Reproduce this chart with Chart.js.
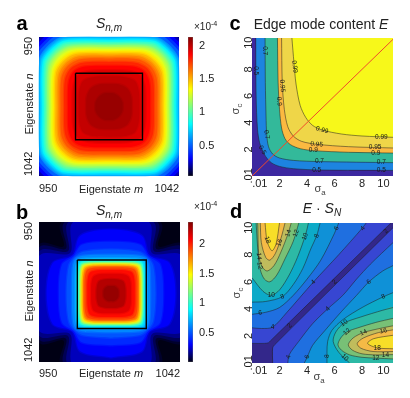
<!DOCTYPE html>
<html>
<head>
<meta charset="utf-8">
<title>Edge mode content</title>
<script src="https://cdn.jsdelivr.net/npm/chart.js@4.4.1/dist/chart.umd.min.js"></script>
<style>
  body {
    margin: 0; width: 410px; height: 398px; position: relative; overflow: hidden;
    background: #fff; color: #222; font-family: "Liberation Sans", Arial, sans-serif;
  }
  canvas { position: absolute; }
  .t { position: absolute; white-space: nowrap; line-height: 1; transform: translate(-50%, -50%); }
  .v { transform: translate(-50%, -50%) rotate(-90deg); }
  .lt { font-weight: bold; font-size: 20px; color: #000; }
  .ttl { font-size: 14px; }
  .ax { font-size: 11px; }
  .sg { font-size: 11px; color: #444; }
  .ex { font-size: 10px; transform: none; }
  sub { font-size: 72%; vertical-align: -0.3em; }
  sup { font-size: 72%; vertical-align: 0.55em; }
</style>
</head>
<body>
<canvas id="mapA" width="185" height="200" style="left:0;top:0"></canvas>
<canvas id="barA" width="50" height="200" style="left:183px;top:0"></canvas>
<canvas id="mapB" width="185" height="200" style="left:0;top:185px"></canvas>
<canvas id="barB" width="50" height="200" style="left:183px;top:185px"></canvas>
<canvas id="edgeC" width="210" height="200" style="left:200px;top:0"></canvas>
<canvas id="prodD" width="210" height="200" style="left:200px;top:185px"></canvas>

<div class="t lt" style="left:22px;top:23px">a</div>
<div class="t lt" style="left:22px;top:212px">b</div>
<div class="t lt" style="left:235px;top:23px">c</div>
<div class="t lt" style="left:236px;top:211px">d</div>

<div class="t ttl" style="left:109px;top:25px"><i>S</i><sub><i>n,m</i></sub></div>
<div class="t ttl" style="left:109px;top:212px"><i>S</i><sub><i>n,m</i></sub></div>
<div class="t ttl" style="left:321px;top:24px">Edge mode content <i>E</i></div>
<div class="t ttl" style="left:322px;top:210px"><i>E</i> · <i>S</i><sub><i>N</i></sub></div>

<div class="t ax v" style="left:29px;top:104px">Eigenstate <i>n</i></div>
<div class="t ax" style="left:111px;top:189px">Eigenstate <i>m</i></div>
<div class="t ax v" style="left:29px;top:291px">Eigenstate <i>n</i></div>
<div class="t ax" style="left:111px;top:373px">Eigenstate <i>m</i></div>

<div class="t sg v" style="left:237px;top:109px">σ<sub>c</sub></div>
<div class="t sg" style="left:320px;top:190px">σ<sub>a</sub></div>
<div class="t sg v" style="left:238px;top:293px">σ<sub>c</sub></div>
<div class="t sg" style="left:319px;top:378px">σ<sub>a</sub></div>

<div class="t ex" style="left:194px;top:20px">×10<sup>-4</sup></div>
<div class="t ex" style="left:194px;top:200px">×10<sup>-4</sup></div>

<script>
// ---------- data ----------
const nRange = [950, 1042];
const nTicks = [950, 1042];
const cbTicks = [0.5, 1, 1.5, 2];

// a: S_{n,m} as nested level rings; each ring is given by one quadrant:
// (0,h) (s,t) (k,k) (t,s) (h,0), offsets from the centre in eigenstate units
const aCenter = 996;
const aBox = [974, 1018];
const aRange = [0.04, 2.14];
const aBase = 0.15;
const aLevels = [0.22, 0.3, 0.4, 0.5, 0.6, 0.7, 0.8, 0.9, 1.0, 1.1, 1.2, 1.3, 1.4, 1.5, 1.6, 1.7, 1.8, 1.88, 1.95, 2.0, 2.05, 2.09];
const aH = [62, 58, 55, 51, 47.5, 45.5, 44.2, 43, 41.8, 40.6, 39.4, 38, 36.7, 35.3, 33.6, 31.8, 29.5, 27, 24, 20, 15, 9];
const aS = [40, 38, 36, 34, 31, 30, 29.5, 29, 28, 26.5, 25.5, 24, 23, 22, 20.5, 19, 17.5, 16, 13.5, 10, 6.5, 3];
const aT = [51, 49.5, 48, 47.2, 46.2, 45, 43.7, 42.5, 41.3, 40.1, 38.9, 37.5, 36.2, 34.8, 33.1, 31.3, 29, 26.5, 23.5, 19.6, 14.7, 8.8];
const aK = [45.5, 44.3, 42.8, 41.5, 40.2, 39, 38, 37, 36, 35, 34, 32.7, 31.3, 30, 28.5, 27, 25.2, 23.2, 20.5, 17, 12, 6.6];

// b: same idea, the halo outside the box is cross shaped
const bCenter = 997;
const bBox = [975, 1020];
const bRange = [0.01, 2.37];
const bBase = 0.0;
const bLevels = [0.04, 0.09, 0.15, 0.22, 0.3, 0.4, 0.5, 0.62, 0.78, 0.95, 1.15, 1.35, 1.55, 1.75, 1.92, 2.05, 2.15, 2.25, 2.32];
const bH = [75, 70, 66, 62, 42, 34, 29, 25.5, 23, 21.5, 20.6, 19.9, 19.2, 18.4, 17.3, 15.5, 13, 9.5, 5];
const bS = [33, 31, 28.5, 25.5, 20, 19, 18, 17, 16, 15, 14, 13.5, 12.5, 11.5, 10.5, 9, 7, 4, 2];
const bT = [46, 46, 46, 46, 38, 32, 27.5, 25, 22.8, 21.3, 20.4, 19.7, 19, 18.2, 17.1, 15.3, 12.8, 9.3, 4.9];
const bK = [31, 29.5, 28, 26.7, 25, 24.5, 23.8, 23, 21.5, 20.2, 19.2, 18.5, 17.7, 16.8, 15.6, 13.8, 11.3, 8, 3.8];

// c, d: sigma axes run a little past 10
const XMAX = 10.25;
const YMAX = 10.35;
const sigmaTicks = [0.01, 2, 4, 6, 8, 10];

// c: contour lines of E, each from the top edge to the right edge
const cLevels = [0.5, 0.7, 0.9, 0.95, 0.99];
const cLines = [
  [[0.27, 10.35], [0.3, 6], [0.4, 3.5], [0.55, 2.5], [0.75, 1.95], [1.0, 1.45], [1.4, 1.0], [2, 0.72], [3, 0.55], [5, 0.45], [10.25, 0.42]],
  [[0.95, 10.35], [0.97, 7], [1.02, 4.5], [1.07, 3.1], [1.2, 2.2], [1.5, 1.65], [2, 1.35], [3, 1.17], [4.9, 1.08], [10.25, 1.0]],
  [[1.85, 10.35], [1.9, 7], [2.0, 5], [2.15, 3.6], [2.4, 2.8], [2.8, 2.35], [3.5, 2.05], [4.5, 1.9], [7, 1.78], [10.25, 1.72]],
  [[2.15, 10.35], [2.2, 7], [2.35, 5], [2.6, 3.7], [3.0, 3.0], [3.6, 2.6], [4.7, 2.38], [7, 2.2], [10.25, 2.1]],
  [[2.9, 10.35], [3.05, 8.5], [3.2, 6.9], [3.5, 5.3], [3.9, 4.4], [4.4, 3.8], [5.1, 3.45], [6.5, 3.15], [8, 3.0], [10.25, 2.9]]
];
const cLabels = [
  [0.28, 7.9, '0.5', 90], [0.75, 1.95, '0.5', 60], [4.7, 0.45, '0.5', 0], [9.4, 0.43, '0.5', 0],
  [0.96, 9.4, '0.7', 90], [1.07, 3.1, '0.7', 80], [4.9, 1.08, '0.7', 0], [9.4, 1.0, '0.7', 0],
  [1.98, 5.6, '0.9', 85], [4.46, 1.9, '0.9', 0], [9.0, 1.73, '0.9', 0],
  [2.2, 6.75, '0.95', 85], [4.7, 2.38, '0.95', 5], [8.95, 2.13, '0.95', 0],
  [3.1, 8.2, '0.99', 82], [5.1, 3.45, '0.99', 15], [9.4, 2.92, '0.99', 0]
];

// d: contour lines of E*S_N
const dLevels = [2, 4, 6, 8, 10, 12, 14, 16, 18];
// above the diagonal: from the left or top edge, region above is filled
const dUpper = [
  [[0, 1.45], [0.9, 1.45], [1.2, 1.5], [1.35, 1.65], [10.1, 10.35]],
  [[0, 2.6], [0.7, 2.55], [1.5, 2.65], [2.5, 3.7], [4.46, 5.98], [6.3, 8.0], [8.0, 9.95], [8.3, 10.35]],
  [[0, 3.6], [1, 3.75], [2, 4.1], [3, 5.0], [4, 6.2], [5, 7.6], [6, 9.6], [6.3, 10.35]],
  [[0, 4.5], [1, 4.55], [2.2, 4.9], [3, 5.8], [3.7, 7], [4.3, 8.5], [4.7, 9.4], [4.95, 10.35]],
  [[0, 6.3], [0.8, 5.3], [1.4, 5.0], [2.0, 5.4], [2.7, 6.5], [3.3, 7.8], [3.9, 9.5], [4.1, 10.35]],
  [[0.3, 10.35], [0.45, 8], [0.6, 6.9], [0.9, 6.2], [1.3, 6.0], [1.8, 6.5], [2.4, 7.7], [3.0, 9.0], [3.4, 10.35]],
  [[0.42, 10.35], [0.5, 7.9], [0.75, 7.1], [1.1, 6.8], [1.6, 7.2], [2.1, 8.2], [2.6, 9.5], [2.85, 10.35]],
  [[0.6, 10.35], [0.68, 8.9], [1.0, 7.8], [1.3, 7.6], [1.7, 8.1], [2.1, 9.2], [2.4, 10.35]],
  [[0.95, 10.35], [1.1, 9.0], [1.45, 8.3], [1.75, 8.8], [2.0, 10.35]]
];
// below the diagonal: bottom edge to right edge (2..8), or right edge to right edge lobes
const dLower = [
  [[1.5, 0], [1.5, 1.1], [1.65, 1.35], [10.25, 10.0]],
  [[2.6, 0], [2.7, 0.6], [3.4, 1.6], [4.4, 2.9], [5.5, 4.0], [6.6, 5.0], [7.6, 6.2], [8.6, 7.3], [10.25, 8.9]],
  [[3.8, 0], [4.0, 0.4], [4.4, 1.3], [5.3, 2.4], [6.5, 3.8], [7.6, 5.0], [8.5, 6.0], [9.5, 6.8], [10.25, 7.2]],
  [[5.45, 0], [5.45, 0.8], [5.5, 1.6], [5.8, 2.4], [6.6, 3.2], [8, 4.1], [9.55, 4.9], [10.25, 5.2]],
  [[7.1, 0], [6.3, 0.8], [5.9, 1.6], [6.1, 2.3], [6.7, 2.95], [7.9, 3.4], [9.5, 3.9], [10.25, 4.1]],
  [[10.25, 0.3], [9, 0.36], [8, 0.42], [7.1, 0.6], [6.5, 0.95], [6.25, 1.35], [6.45, 1.85], [6.9, 2.3], [7.7, 2.6], [9.0, 3.0], [10.25, 3.3]],
  [[10.25, 0.62], [9, 0.6], [8, 0.68], [7.3, 0.95], [7.0, 1.35], [7.35, 1.85], [8.1, 2.25], [9.5, 2.6], [10.25, 2.75]],
  [[10.25, 0.85], [8.8, 0.85], [7.9, 1.1], [7.65, 1.45], [8.1, 1.85], [9.2, 2.25], [10.25, 2.45]],
  [[10.25, 1.05], [9.1, 1.12], [8.4, 1.45], [8.85, 1.8], [10.25, 2.05]]
];
const dLabels = [
  [1.12, 9.1, '18', 70], [2.0, 8.9, '16', -70], [2.65, 9.6, '14', -72], [3.2, 9.6, '12', -72],
  [3.85, 9.35, '10', -70], [4.7, 9.4, '8', -68], [6.15, 9.95, '6', -62], [8.05, 9.95, '4', -50],
  [9.75, 9.75, '2', -45], [0.5, 7.9, '14', 85], [0.56, 7.2, '12', 80], [1.4, 5.0, '10', 0],
  [2.2, 4.9, '8', -20], [0.6, 3.72, '6', -5], [1.5, 2.65, '4', 0], [2.75, 2.75, '2', -45],
  [6.0, 6.0, '2', -45], [4.46, 5.98, '4', -45],
  [2.65, 0.45, '4', -80], [4.02, 0.45, '6', -75], [5.45, 0.5, '8', -88], [6.75, 0.4, '10', 45],
  [9.0, 0.36, '12', 0], [9.7, 0.61, '14', 0], [9.1, 1.12, '18', 0], [9.55, 2.37, '16', -12],
  [8.1, 2.25, '14', -25], [6.9, 2.3, '12', -40], [6.7, 2.95, '10', -35], [9.55, 4.9, '8', -25],
  [8.5, 6.0, '6', -42], [5.5, 4.0, '4', -45]
];

// ---------- styles ----------
const font = { family: '"Liberation Sans", Arial, sans-serif', size: 11 };
const ink = '#222';
const lineInk = 'rgba(30,30,30,0.85)';
const jetStops = [[0, [0, 0, 20]], [0.125, [0, 0, 255]], [0.375, [0, 255, 255]], [0.625, [255, 255, 0]], [0.875, [255, 0, 0]], [1, [128, 0, 0]]];
const cColors = ['#3c28a0', '#1d84e0', '#33b99a', '#fbb941', '#efd648', '#f7f81a'];
const dColors = ['#33278a', '#3746d2', '#1f6fe0', '#0f91d7', '#0caac8', '#2db9a5', '#78c076', '#c0bc5c', '#f5ba46', '#f8de28'];

function jetRGB(v, range) {
  const t = Math.min(1, Math.max(0, (v - range[0]) / (range[1] - range[0])));
  for (let i = 1; i < jetStops.length; i++) {
    const [t1, c1] = jetStops[i];
    if (t <= t1) {
      const [t0, c0] = jetStops[i - 1];
      const f = (t - t0) / (t1 - t0);
      return c0.map((c, j) => Math.round(c + f * (c1[j] - c)));
    }
  }
  return jetStops[jetStops.length - 1][1];
}
const jet = (v, range, alpha = 1) => 'rgba(' + jetRGB(v, range).join(',') + ',' + alpha + ')';

const toXY = line => line.map(([x, y]) => ({ x, y }));

// full ring from one quadrant, turning it by 90 degrees four times
function ring(c, h, s, t, k) {
  let quarter = [[0, h], [s, t], [k, k], [t, s]];
  const pts = [];
  for (let r = 0; r < 4; r++) {
    pts.push(...quarter);
    quarter = quarter.map(([x, y]) => [y, -x]);
  }
  pts.push(pts[0]);
  return pts.map(([x, y]) => ({ x: c + x, y: c + y }));
}

// ---------- plugins ----------
const areaFill = color => ({
  id: 'areaFill',
  beforeDatasetsDraw(chart) {
    const { ctx, chartArea: a } = chart;
    ctx.save();
    ctx.fillStyle = color;
    ctx.fillRect(a.left, a.top, a.width, a.height);
    ctx.restore();
  }
});

const contourLabels = items => ({
  id: 'contourLabels',
  afterDatasetsDraw(chart) {
    const { ctx, scales: { x, y } } = chart;
    ctx.save();
    ctx.font = '6.5px "Liberation Sans", Arial, sans-serif';
    ctx.fillStyle = '#1a1a1a';
    ctx.textAlign = 'center';
    ctx.textBaseline = 'middle';
    items.forEach(([vx, vy, txt, rot]) => {
      ctx.save();
      ctx.translate(x.getPixelForValue(vx), y.getPixelForValue(vy));
      ctx.rotate(rot * Math.PI / 180);
      ctx.fillText(txt, 0, 0);
      ctx.restore();
    });
    ctx.restore();
  }
});

// 950 / 1042 on the eigenstate y axis, turned and kept inside the axis length
const sideTicks = {
  id: 'sideTicks',
  afterDraw(chart) {
    const { ctx, chartArea, scales: { y } } = chart;
    ctx.save();
    ctx.font = '11px "Liberation Sans", Arial, sans-serif';
    ctx.fillStyle = ink;
    ctx.textBaseline = 'middle';
    nTicks.forEach((v, i) => {
      ctx.save();
      ctx.translate(chartArea.left - 10, y.getPixelForValue(v));
      ctx.rotate(-Math.PI / 2);
      ctx.textAlign = i === 0 ? 'right' : 'left';
      ctx.fillText(String(v), 0, 0);
      ctx.restore();
    });
    ctx.restore();
  }
};

const noGrid = { display: false, drawTicks: false };

// ---------- a, b heat maps ----------
function heatMap(id, center, box, levels, H, S, T, K, base, range, axisH, tickPad) {
  const half = (nRange[1] - nRange[0]) / 2;
  const sets = levels.map((v, i) => {
    // rings that stay inside the map get a soft edge to hide the steps
    const inside = H[i] <= half && T[i] <= half;
    return {
      data: ring(center, H[i], S[i], T[i], K[i]),
      fill: 'shape', backgroundColor: jet(v, range),
      borderColor: inside ? jet(v, range, 0.45) : 'rgba(0,0,0,0)',
      borderWidth: inside ? 2.5 : 0, pointRadius: 0,
      tension: 0.3, clip: false, order: -i
    };
  });
  sets.push({
    data: toXY([[box[0], box[0]], [box[1], box[0]], [box[1], box[1]], [box[0], box[1]], [box[0], box[0]]]),
    fill: false, borderColor: '#000', borderWidth: 1.4, pointRadius: 0, order: -100
  });
  new Chart(document.getElementById(id), {
    type: 'line',
    data: { datasets: sets },
    options: {
      animation: false, responsive: false, events: [],
      layout: { padding: { top: 37, right: 5 } },
      plugins: { legend: { display: false }, tooltip: { enabled: false } },
      scales: {
        x: {
          type: 'linear', min: nRange[0], max: nRange[1],
          afterBuildTicks: s => { s.ticks = nTicks.map(v => ({ value: v })); },
          afterFit: s => { s.height = axisH; },
          grid: noGrid, border: { display: false },
          ticks: { align: 'inner', font, color: ink, padding: tickPad, autoSkip: false, maxRotation: 0, callback: v => String(v) }
        },
        y: {
          type: 'linear', min: nRange[0], max: nRange[1], reverse: true,
          afterFit: s => { s.width = 39; },
          grid: noGrid, border: { display: false }, ticks: { display: false }
        }
      }
    },
    plugins: [areaFill(jet(base, range)), sideTicks]
  });
}

function colorBar(id, range, axisH) {
  new Chart(document.getElementById(id), {
    type: 'bar',
    data: {
      labels: [''],
      datasets: [{
        data: [range],
        backgroundColor: c => {
          const a = c.chart.chartArea;
          if (!a) return null;
          const g = c.chart.ctx.createLinearGradient(0, a.bottom, 0, a.top);
          jetStops.forEach(([t, col]) => g.addColorStop(t, 'rgb(' + col.join(',') + ')'));
          return g;
        },
        borderColor: '#777', borderWidth: 0.6, borderSkipped: false,
        barPercentage: 1, categoryPercentage: 1
      }]
    },
    options: {
      animation: false, responsive: false, events: [],
      layout: { padding: { left: 5, top: 37, bottom: axisH } },
      plugins: { legend: { display: false }, tooltip: { enabled: false } },
      scales: {
        x: { display: false },
        y: {
          position: 'right', min: range[0], max: range[1],
          afterBuildTicks: s => { s.ticks = cbTicks.map(v => ({ value: v })); },
          afterFit: s => { s.width = 40; },
          grid: noGrid, border: { display: false },
          ticks: { font, color: ink, padding: 6, autoSkip: false, callback: v => String(v) }
        }
      }
    }
  });
}

heatMap('mapA', aCenter, aBox, aLevels, aH, aS, aT, aK, aBase, aRange, 24, 6);
colorBar('barA', aRange, 24);
heatMap('mapB', bCenter, bBox, bLevels, bH, bS, bT, bK, bBase, bRange, 23, 5);
colorBar('barB', bRange, 23);

// ---------- c, d contour maps ----------
function sigmaScales(axisH) {
  const lab = v => (v === 0.01 ? '.01' : String(v));
  return {
    x: {
      type: 'linear', min: 0, max: XMAX,
      afterBuildTicks: s => { s.ticks = sigmaTicks.map(v => ({ value: v })); },
      afterFit: s => { s.height = axisH; },
      grid: noGrid, border: { display: false },
      ticks: { font, color: ink, padding: 1, align: 'inner', autoSkip: false, maxRotation: 0, callback: lab }
    },
    y: {
      type: 'linear', min: 0, max: YMAX,
      afterBuildTicks: s => { s.ticks = sigmaTicks.map(v => ({ value: v })); },
      afterFit: s => { s.width = 52; },
      grid: noGrid, border: { display: false },
      ticks: { font, color: ink, padding: -5, crossAlign: 'center', minRotation: 90, maxRotation: 90, autoSkip: false, callback: lab }
    }
  };
}

function contourChart(id, fills, lines, extra, bg, labels, axisH) {
  const sets = [];
  fills.forEach((f, i) => sets.push(Object.assign({
    borderColor: 'rgba(0,0,0,0)', borderWidth: 0, pointRadius: 0, tension: 0.3, order: -i
  }, f)));
  lines.forEach((l, j) => sets.push({
    data: toXY(l), fill: false, borderColor: lineInk, borderWidth: 0.6,
    pointRadius: 0, tension: 0.3, order: -500 - j
  }));
  extra.forEach(e => sets.push(e));
  new Chart(document.getElementById(id), {
    type: 'line',
    data: { datasets: sets },
    options: {
      animation: false, responsive: false, events: [],
      layout: { padding: { top: 38, right: 17 } },
      plugins: { legend: { display: false }, tooltip: { enabled: false } },
      scales: sigmaScales(axisH)
    },
    plugins: [areaFill(bg), contourLabels(labels)]
  });
}

contourChart('edgeC',
  cLines.map((l, i) => ({ data: toXY(l), fill: 'end', backgroundColor: cColors[i + 1] })),
  cLines,
  [{ data: toXY([[0, 0], [YMAX, YMAX]]), fill: false, borderColor: '#ef4b2b', borderWidth: 1, pointRadius: 0, order: -1000 }],
  cColors[0], cLabels, 24);

const dFills = [];
dLevels.forEach((L, i) => {
  dFills.push({ data: toXY(dUpper[i]), fill: 'end', backgroundColor: dColors[i + 1] });
  if (i < 4) {
    dFills.push({ data: toXY(dLower[i]), fill: 'start', backgroundColor: dColors[i + 1] });
  } else {
    // the level-10 region also holds the lower right corner
    const pts = i === 4 ? dLower[i].concat([[XMAX, 0]]) : dLower[i];
    dFills.push({ data: toXY(pts), fill: 'shape', clip: false, backgroundColor: dColors[i + 1] });
  }
});
contourChart('prodD', dFills, dUpper.concat(dLower), [], dColors[0], dLabels, 22);
</script>
</body>
</html>
